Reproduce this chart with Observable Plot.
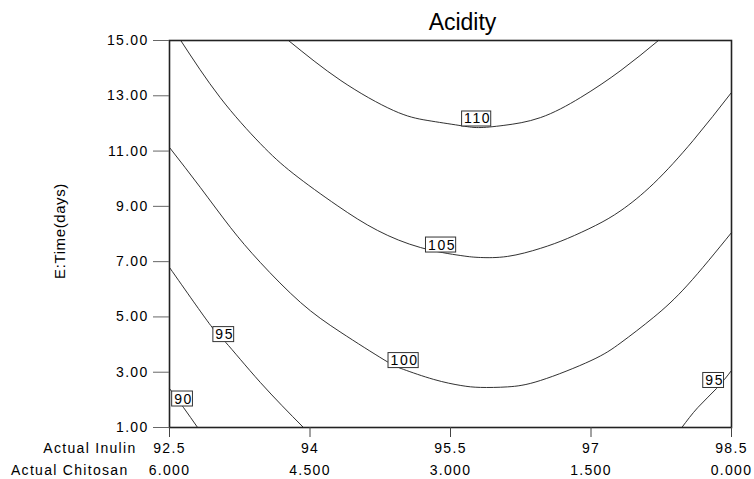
<!DOCTYPE html>
<html><head><meta charset="utf-8">
<script src="https://cdn.jsdelivr.net/npm/d3@7"></script>
<script src="https://cdn.jsdelivr.net/npm/@observablehq/plot@0.6"></script>
<style>
body{margin:0;background:#fff}
#chart text{letter-spacing:1.3px}
#chart text.nospace{letter-spacing:0}
#chart text.yl{letter-spacing:0.6px}
#chart text.clab{letter-spacing:1.6px}
</style>
</head><body><div id="chart"></div>
<script>
// Axis ticks
const inulinTicks = [92.5, 94, 95.5, 97, 98.5];
const chitosanLabels = ["6.000", "4.500", "3.000", "1.500", "0.000"];
const timeTicks = [1, 3, 5, 7, 9, 11, 13, 15];

// Contour lines: [Actual Inulin, E:Time(days)]
const contour110 = [[93.77,15],[94.33,13.55],[94.89,12.47],[95.25,12.11],[95.59,11.93],[95.80,11.85],[96.07,11.93],[96.46,12.21],[96.89,12.94],[97.32,13.92],[97.72,15]];
const contour105 = [[92.62,15],[93.04,12.94],[93.47,11.27],[93.82,10.19],[94.29,9.03],[94.72,8.13],[95.18,7.51],[95.61,7.22],[95.82,7.15],[96.11,7.19],[96.46,7.48],[96.75,7.84],[97.05,8.31],[97.32,8.85],[97.67,9.83],[98.09,11.38],[98.5,13.12]];
const contour100 = [[92.5,11.13],[92.83,9.68],[93.15,8.24],[93.47,6.97],[93.90,5.52],[94.33,4.44],[94.79,3.45],[95.00,3.10],[95.32,2.74],[95.61,2.52],[95.82,2.45],[96.11,2.47],[96.46,2.70],[97.00,3.42],[97.32,4.07],[97.67,4.99],[98.03,6.15],[98.5,8.05]];
const contour95left = [[92.5,6.79],[92.94,4.69],[93.10,4.08],[93.47,2.63],[93.93,1]];
const contour90 = [[92.5,2.41],[92.65,1.72],[92.80,1]];
const contour95right = [[97.97,1],[98.14,1.72],[98.34,2.41],[98.5,3.06]];

// Contour labels
const labelLevels = ["110", "105", "100", "95", "90", "95"];
const labelX = [95.79, 95.41, 95.01, 93.09, 92.65, 98.32];
const labelY = [12.16, 7.60, 3.42, 4.36, 2.03, 2.70];

const contours = [
  ["110", contour110], ["105", contour105], ["100", contour100],
  ["95L", contour95left], ["90", contour90], ["95R", contour95right]
];
const lineRows = contours.flatMap(([id, pts]) => pts.map(([x, y]) => ({id, x, y})));
const labelRows = labelLevels.map((t, i) => ({text: t, x: labelX[i], y: labelY[i]}));

const chart = Plot.plot({
  width: 754,
  height: 479,
  marginTop: 40,
  marginBottom: 52,
  marginLeft: 169,
  marginRight: 23,
  style: {fontFamily: "'Liberation Sans', Arial, sans-serif", fontSize: "14px", color: "#000", background: "#fff"},
  x: {domain: [92.5, 98.5]},
  y: {domain: [1, 15]},
  marks: [
    Plot.line(lineRows, {x: "x", y: "y", z: "id", stroke: "#1a1a1a", strokeWidth: 0.9, curve: "natural"}),
    Plot.text(labelRows, {x: "x", y: "y", text: "text", fontSize: 14, fill: "#000"}),
    Plot.frame({stroke: "#222", strokeWidth: 1.6}),
    Plot.axisY(timeTicks, {tickFormat: d => d.toFixed(2), tickSize: 16, tickPadding: 5, stroke: "#666", label: null, fontSize: 14}),
    Plot.axisX(inulinTicks, {tickFormat: d => String(d), tickSize: 10, tickPadding: 6, stroke: "#444", label: null, fontSize: 14}),
    Plot.axisX(inulinTicks, {tickFormat: d => chitosanLabels[inulinTicks.indexOf(d)], tickSize: 0, tickPadding: 38, label: null, fontSize: 14}),
    Plot.text(["Actual Inulin"], {frameAnchor: "bottom-left", dx: -33, dy: 16, textAnchor: "end", lineAnchor: "top", fontSize: 14}),
    Plot.text(["Actual Chitosan"], {frameAnchor: "bottom-left", dx: -41, dy: 38, textAnchor: "end", lineAnchor: "top", fontSize: 14}),
    Plot.text(["E:Time(days)"], {frameAnchor: "left", dx: -109, dy: -3, rotate: -90, textAnchor: "middle", lineAnchor: "middle", fontSize: 15}),
    Plot.text(["Acidity"], {frameAnchor: "top", dx: 12, dy: -27, lineAnchor: "top", fontSize: 23})
  ]
});
document.getElementById("chart").append(chart);

const levelSet = new Set(labelLevels);
chart.querySelectorAll("text").forEach(t => {
  if (t.textContent === "Acidity") t.classList.add("nospace");
  if (t.textContent === "E:Time(days)") t.classList.add("yl");
  if (levelSet.has(t.textContent)) t.classList.add("clab");
});

// Boxes behind contour labels
chart.querySelectorAll("text.clab").forEach(t => {
  const b = t.getBBox();
  const r = document.createElementNS("http://www.w3.org/2000/svg", "rect");
  r.setAttribute("x", b.x - 2.5);
  r.setAttribute("y", b.y + 0.5);
  r.setAttribute("width", b.width + 2);
  r.setAttribute("height", b.height - 1);
  r.setAttribute("fill", "#fff");
  r.setAttribute("stroke", "#333");
  r.setAttribute("stroke-width", 1);
  const tr = t.getAttribute("transform");
  if (tr) r.setAttribute("transform", tr);
  t.parentNode.insertBefore(r, t);
});
</script>
</body></html>
